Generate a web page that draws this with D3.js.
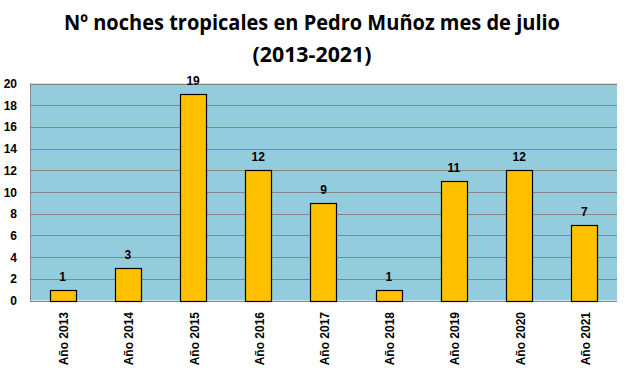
<!DOCTYPE html>
<html>
<head>
<meta charset="utf-8">
<script src="https://cdn.jsdelivr.net/npm/d3@7"></script>
<style>
  body { margin: 0; background: #fff; }
  svg { display: block; }
</style>
</head>
<body>
<div id="chart"></div>
<script>
const categories = ["Año 2013","Año 2014","Año 2015","Año 2016","Año 2017","Año 2018","Año 2019","Año 2020","Año 2021"];
const values = [1, 3, 19, 12, 9, 1, 11, 12, 7];
const yTicks = [0, 2, 4, 6, 8, 10, 12, 14, 16, 18, 20];
const titleLines = ["Nº noches tropicales en Pedro Muñoz mes de julio", "(2013-2021)"];

const W = 627, H = 372;
const plot = { left: 30, right: 617, top: 83.5, bottom: 300.5 };

const svg = d3.select("#chart").append("svg").attr("width", W).attr("height", H);

const x = d3.scaleBand().domain(categories).range([plot.left, plot.right])
  .paddingInner(0.6).paddingOuter(0.3);
const y = d3.scaleLinear().domain([0, 20]).range([plot.bottom, plot.top]);

// plot background
svg.append("rect").attr("x", plot.left).attr("y", plot.top)
  .attr("width", plot.right - plot.left).attr("height", plot.bottom - plot.top)
  .attr("fill", "#93CDDD");

// gridlines
svg.append("g").selectAll("line").data(yTicks).join("line")
  .attr("x1", plot.left).attr("x2", plot.right)
  .attr("y1", d => Math.round(y(d)) + 0.5).attr("y2", d => Math.round(y(d)) + 0.5)
  .attr("stroke", "#868686").attr("stroke-width", 1);

// left axis line
svg.append("line").attr("x1", plot.left + 0.5).attr("x2", plot.left + 0.5)
  .attr("y1", plot.top).attr("y2", plot.bottom + 0.5)
  .attr("stroke", "#868686");

// y tick labels
svg.append("g").selectAll("text").data(yTicks).join("text")
  .attr("x", 17).attr("y", d => y(d) + 4.5)
  .attr("text-anchor", "end")
  .attr("font-family", "Liberation Sans, Arial, sans-serif")
  .attr("font-weight", "bold").attr("font-size", 12)
  .attr("fill", "#000").text(d => d);

// bars
svg.append("g").selectAll("rect").data(values).join("rect")
  .attr("x", (d, i) => Math.round(x(categories[i])) + 0.5)
  .attr("y", d => Math.round(y(d)) + 0.5)
  .attr("width", Math.round(x.bandwidth()))
  .attr("height", d => Math.round(y(0)) - Math.round(y(d)))
  .attr("fill", "#FFC000").attr("stroke", "#000").attr("stroke-width", 1.2);

// value labels
svg.append("g").selectAll("text").data(values).join("text")
  .attr("x", (d, i) => x(categories[i]) + x.bandwidth() / 2)
  .attr("y", d => y(d) - 9)
  .attr("text-anchor", "middle")
  .attr("font-family", "Liberation Sans, Arial, sans-serif")
  .attr("font-weight", "bold").attr("font-size", 12)
  .attr("fill", "#000").text(d => d);

// x labels rotated
svg.append("g").selectAll("text").data(categories).join("text")
  .attr("transform", d => `translate(${x(d) + x.bandwidth() / 2 + 5.5},312) rotate(-90)`)
  .attr("text-anchor", "end")
  .attr("font-family", "Liberation Sans, Arial, sans-serif")
  .attr("font-weight", "bold").attr("font-size", 12)
  .attr("fill", "#000").text(d => d);

// title
const titleY = [30, 61.5];
const titleW = [496, 119];
svg.append("g").selectAll("text").data(titleLines).join("text")
  .attr("x", 312).attr("y", (d, i) => titleY[i])
  .attr("text-anchor", "middle")
  .attr("font-family", "Open Sans, Liberation Sans, sans-serif")
  .attr("font-weight", "bold").attr("font-size", 21)
  .attr("textLength", (d, i) => titleW[i])
  .attr("lengthAdjust", "spacingAndGlyphs")
  .attr("fill", "#000").text(d => d);
</script>
</body>
</html>
